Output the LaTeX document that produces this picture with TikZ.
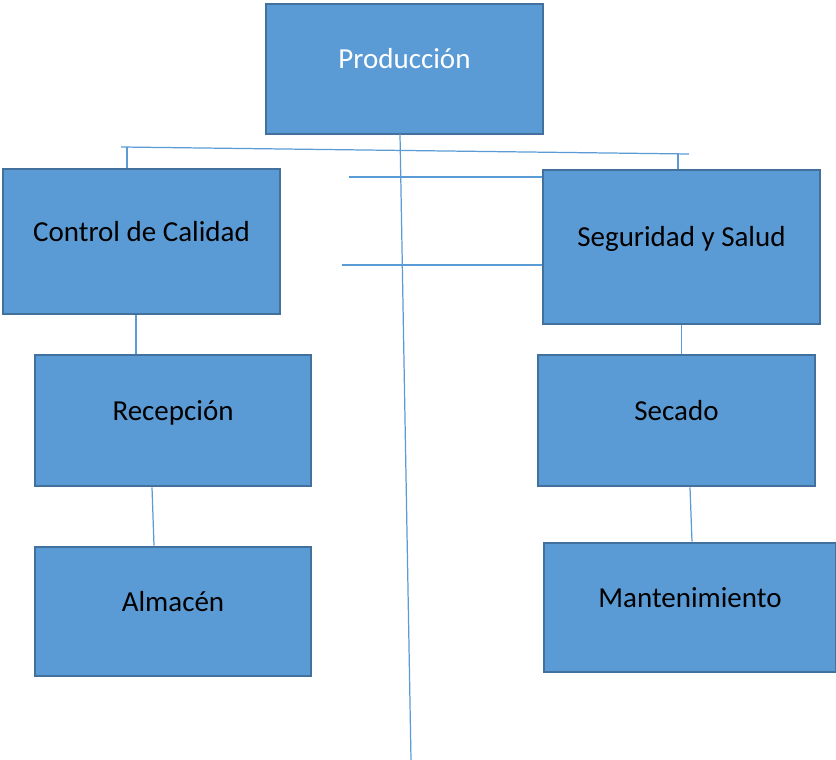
\documentclass[tikz,border=0pt]{standalone}
\usepackage{fontspec}
\setmainfont{Carlito}
\definecolor{boxfill}{HTML}{5B9BD5}
\definecolor{boxline}{HTML}{41719C}
\begin{document}
\begin{tikzpicture}[
                                x = 0.02cm,
                                y = -0.02cm,
                                line width = 0.6pt,
                                draw = boxfill
                                ]

                                \tikzstyle{unit}=[
                                        draw = boxline,
                                        rectangle,
                                        line width = 1.5pt,
                                        fill = boxfill,
                                        font = \fontsize{16.5}{20}\selectfont,
                                        text height = 0.4cm,
                                        text depth = 0.4cm,
                                        minimum width = 5.54cm,
                                        minimum height = 2.6cm,
                                        inner sep = 0pt
                                ]
                                \tikzstyle{link}=[
                                        draw = boxfill,
                                        line width = 0.7pt
                                ]

                                \useasboundingbox (0,0) rectangle (836,760);

                                \node[unit, text = white] (prod) at (404.5,69) {Producción};
                                \node[unit, minimum height = 2.9cm] (ctrl) at (141.5,241.5) {Control de Calidad};
                                \node[unit, minimum height = 3.08cm] (segu) at (681.5,247) {Seguridad y Salud};
                                \node[unit, minimum width = 5.52cm, minimum height = 2.62cm] (recep) at (173,420.5) {Recepción};
                                \node[unit, minimum height = 2.62cm] (secado) at (676.5,420.5) {Secado};
                                \node[unit, minimum width = 5.52cm, minimum height = 2.58cm] (almacen) at (173,611.5) {Almacén};
                                \node[unit, minimum width = 5.84cm, minimum height = 2.58cm] (mant) at (690,607.5) {Mantenimiento};

                                % free ends of the lines
                                \coordinate (trunk) at (400,134);
                                \coordinate (trunkEnd) at (411,760);
                                \coordinate (barL) at (121,147);
                                \coordinate (barR) at (689,154);
                                \coordinate (dropL) at (127,147.3);
                                \coordinate (dropR) at (678,153.5);
                                \coordinate (armA) at (349,177);
                                \coordinate (armB) at (342,265);
                                \coordinate (leftCol) at (136,0);

                                \draw[link] (trunk) -- (trunkEnd);
                                \draw[link] (barL) -- (barR);
                                \draw[link] (dropL) -- (dropL |- ctrl.north);
                                \draw[link] (dropR) -- (dropR |- segu.north);
                                \draw[link] (armA) -- (armA -| segu.west);
                                \draw[link] (armB) -- (armB -| segu.west);
                                \draw[link] (leftCol |- ctrl.south) -- (leftCol |- recep.north);
                                \draw[link] ([xshift=-0.42cm]recep.south) -- ([xshift=-0.38cm]almacen.north);
                                \draw[link] (segu.south) -- (segu.south |- secado.north);
                                \draw[link] ([xshift=0.27cm]secado.south) -- ([xshift=0.04cm]mant.north);
\end{tikzpicture}
\end{document}
